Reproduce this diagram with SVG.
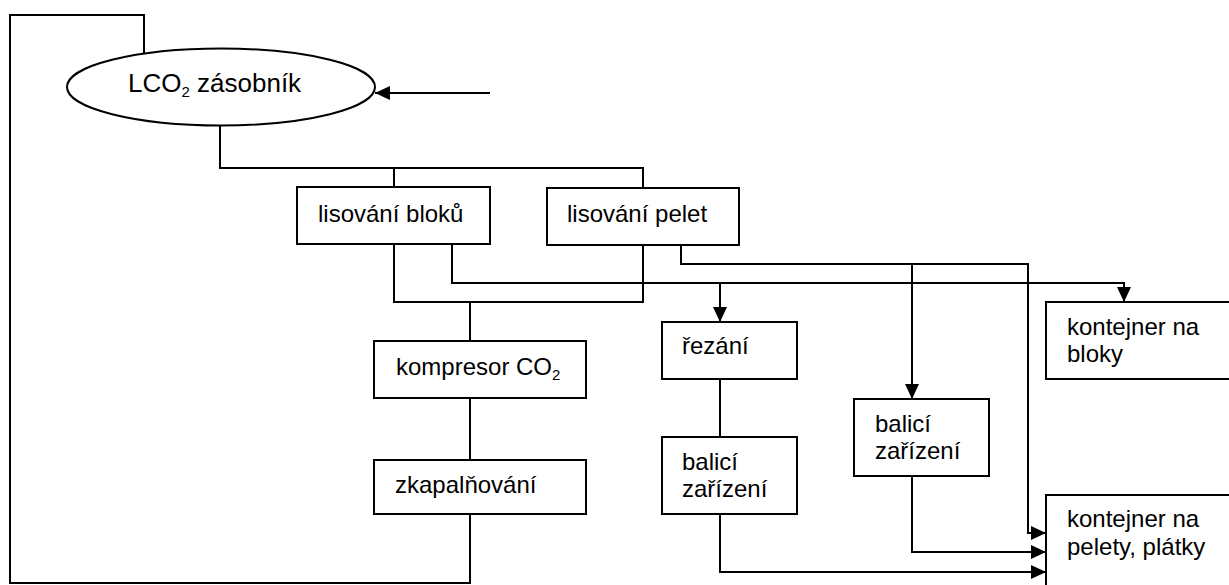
<svg xmlns="http://www.w3.org/2000/svg" width="1229" height="585" viewBox="0 0 1229 585">
<style>
.box{fill:#fff;stroke:#000;stroke-width:2}
.ln{fill:none;stroke:#000;stroke-width:2}
.ar{marker-end:url(#ah)}
text{font-family:"Liberation Sans",Arial,sans-serif;font-size:24px;fill:#000}
.big{font-size:26px}
.sub{font-size:15px}
</style>
<defs>
<marker id="ah" markerUnits="userSpaceOnUse" markerWidth="16" markerHeight="15" refX="15" refY="7" orient="auto">
<path d="M0,0 L15,7 L0,14 z" fill="#000"/>
</marker>
</defs>
<rect width="1229" height="585" fill="#fff"/>
<g id="connectors">
<path class="ln" d="M470,514 V583 H10 V15 H144 V53"/>
<path class="ln ar" d="M490,93 H375"/>
<path class="ln" d="M220,126 V168 H643 V188 M394,168 V187"/>
<path class="ln" d="M394,244 V302 H643 V245 M470,302 V341"/>
<path class="ln ar" d="M452,244 V283 H1124 V302"/>
<path class="ln ar" d="M720,283 V322"/>
<path class="ln ar" d="M681,245 V264 H1028 V533 H1046"/>
<path class="ln ar" d="M912,264 V399"/>
<path class="ln" d="M720,379 V437"/>
<path class="ln ar" d="M720,514 V572 H1046"/>
<path class="ln ar" d="M912,476 V552 H1046"/>
<path class="ln" d="M470,398 V460"/>
</g>
<g id="zasobnik">
<ellipse class="box" cx="221" cy="87" rx="154" ry="38.5"/>
<text class="big" x="128" y="92">LCO<tspan class="sub" font-size="17" dy="5">2</tspan><tspan dy="-5"> zásobník</tspan></text>
</g>
<g id="lisovani-bloku">
<rect class="box" x="297" y="187" width="193" height="57"/>
<text x="318" y="222">lisování bloků</text>
</g>
<g id="lisovani-pelet">
<rect class="box" x="547" y="188" width="192" height="57"/>
<text x="567" y="222">lisování pelet</text>
</g>
<g id="kompresor">
<rect class="box" x="374" y="341" width="212" height="57"/>
<text x="396" y="375">kompresor CO<tspan class="sub" dy="5">2</tspan></text>
</g>
<g id="zkapalnovani">
<rect class="box" x="374" y="460" width="212" height="54"/>
<text x="395" y="493">zkapalňování</text>
</g>
<g id="rezani">
<rect class="box" x="662" y="322" width="135" height="57"/>
<text x="682" y="354">řezání</text>
</g>
<g id="balici-1">
<rect class="box" x="662" y="437" width="135" height="77"/>
<text x="682" y="470">balicí</text>
<text x="682" y="497">zařízení</text>
</g>
<g id="balici-2">
<rect class="box" x="854" y="399" width="135" height="77"/>
<text x="875" y="432">balicí</text>
<text x="875" y="459">zařízení</text>
</g>
<g id="kontejner-bloky">
<rect class="box" x="1046" y="302" width="200" height="77"/>
<text x="1067" y="335">kontejner na</text>
<text x="1067" y="362">bloky</text>
</g>
<g id="kontejner-pelety">
<rect class="box" x="1046" y="495" width="200" height="100"/>
<text x="1067" y="527">kontejner na</text>
<text x="1067" y="555">pelety, plátky</text>
</g>
</svg>
